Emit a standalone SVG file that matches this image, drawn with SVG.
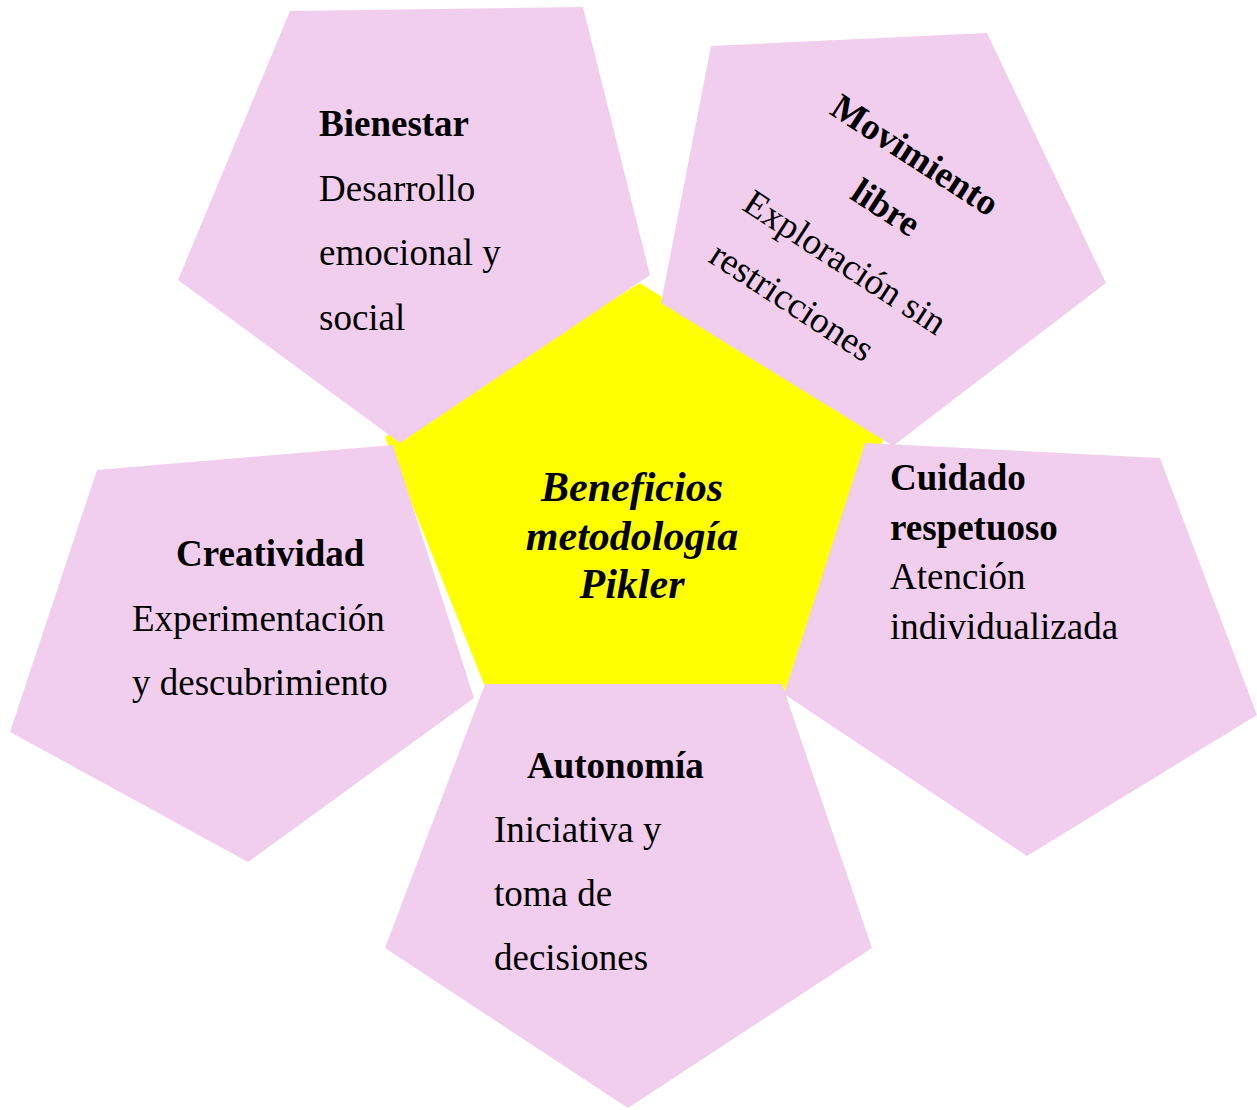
<svg xmlns="http://www.w3.org/2000/svg" width="1257" height="1110" viewBox="0 0 1257 1110">
<style>
.petal{fill:#F2CEEE;stroke:none}
.center{fill:#FFFF00;stroke:none}
text{font-family:"Liberation Serif","Times New Roman",serif;fill:#000;font-size:37px}
.b{font-weight:bold}
.c{font-weight:bold;font-style:italic;font-size:42px}
</style>
<rect width="1257" height="1110" fill="#fff"/>
<g id="center-node">
<polygon class="center" points="640,283 884,438 784,693 484,684 385,437"/>
</g>
<g id="connectors"></g>
<g id="bienestar">
<polygon class="petal" points="290,11 583,7 650,275 400,443 178,280"/>
<text x="319" y="136" class="b">Bienestar</text>
<text x="319" y="201">Desarrollo</text>
<text x="319" y="265">emocional y</text>
<text x="319" y="330">social</text>
</g>
<g id="movimiento">
<polygon class="petal" points="661,303 711,46 987,33 1106,283 893,446"/>
<g transform="translate(828,113) rotate(33)">
<text x="96" y="0" class="b" text-anchor="middle">Movimiento</text>
<text x="100" y="60" class="b" text-anchor="middle">libre</text>
<text x="-21" y="128">Exploración sin</text>
<text x="-21" y="190">restricciones</text>
</g>
</g>
<g id="cuidado">
<polygon class="petal" points="865,443 1160,458 1257,715 1027,856 784,694"/>
<text x="890" y="490" class="b">Cuidado</text>
<text x="890" y="540" class="b">respetuoso</text>
<text x="890" y="589">Atención</text>
<text x="890" y="639">individualizada</text>
</g>
<g id="autonomia">
<polygon class="petal" points="485,684 782,684 872,948 628,1108 385,948"/>
<text x="527" y="778" class="b">Autonomía</text>
<text x="494" y="842">Iniciativa y</text>
<text x="494" y="906">toma de</text>
<text x="494" y="970">decisiones</text>
</g>
<g id="creatividad">
<polygon class="petal" points="97,470 393,445 474,698 248,862 10,732"/>
<text x="176" y="566" class="b">Creatividad</text>
<text x="132" y="631">Experimentación</text>
<text x="132" y="695">y descubrimiento</text>
</g>
<g id="center-label">
<text x="632" y="501" class="c" text-anchor="middle">Beneficios</text>
<text x="632" y="550" class="c" text-anchor="middle">metodología</text>
<text x="632" y="598" class="c" text-anchor="middle">Pikler</text>
</g>
</svg>
